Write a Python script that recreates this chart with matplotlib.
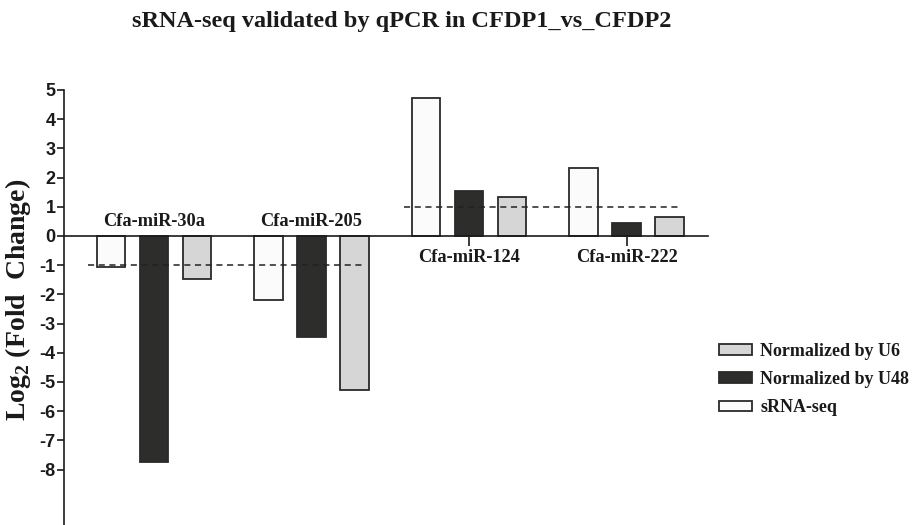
import matplotlib
matplotlib.use('Agg')
import matplotlib.pyplot as plt
from matplotlib.patches import Patch
import numpy as np

plt.rcParams['mathtext.fontset'] = 'custom'
plt.rcParams['mathtext.rm'] = 'Liberation Serif:bold'
plt.rcParams['mathtext.bf'] = 'Liberation Serif:bold'

# data
mirnas = ['Cfa-miR-30a', 'Cfa-miR-205', 'Cfa-miR-124', 'Cfa-miR-222']
srna_seq = [-1.07, -2.18, 4.72, 2.33]
norm_u48 = [-7.73, -3.45, 1.53, 0.44]
norm_u6 = [-1.49, -5.29, 1.34, 0.64]
thresholds = [-1, 1]
yticks = [5, 4, 3, 2, 1, 0, -1, -2, -3, -4, -5, -6, -7, -8]

serif = 'Liberation Serif'
edge = '#2a2a2a'

fig = plt.figure(figsize=(9.13, 5.25), dpi=100)
ax = fig.add_axes([0.0701, 0.0, 0.7054, 0.8286])

x = np.arange(len(mirnas))
off, w = 0.273, 0.181
series = [
    (srna_seq, '#fbfbfb', 'sRNA-seq', -off),
    (norm_u48, '#2d2e2b', 'Normalized by U48', 0.0),
    (norm_u6, '#d6d6d6', 'Normalized by U6', off),
]
for vals, col, lab, dx in series:
    ax.bar(x + dx, vals, width=w, color=col, edgecolor=edge, linewidth=1.3, zorder=3)

# threshold dashed lines (-1 under down-regulated pair, +1 under up-regulated pair)
ax.hlines(thresholds[0], x[0] - 0.42, x[1] + 0.32, colors='#222222',
          linestyles=(0, (4, 3)), linewidth=1.1, zorder=4)
ax.hlines(thresholds[1], x[2] - 0.41, x[3] + 0.34, colors='#222222',
          linestyles=(0, (4, 3)), linewidth=1.1, zorder=4)

# group labels: above axis for negative groups, below for positive
for xi, name, v in zip(x, mirnas, norm_u48):
    ypos = 0.49 if v < 0 else -0.75
    ax.text(xi, ypos, name, ha='center', va='center', fontsize=13.2,
            fontweight='bold', family=serif, color='#1a1a1a')

ax.set_xlim(-0.571, 3.517)
ax.set_ylim(-9.9, 5)
ax.spines['top'].set_visible(False)
ax.spines['right'].set_visible(False)
ax.spines['bottom'].set_position(('data', 0))
ax.spines['bottom'].set_zorder(5)
for s in ['left', 'bottom']:
    ax.spines[s].set_linewidth(1.2)
    ax.spines[s].set_color('#1a1a1a')

ax.set_xticks(x)
ax.set_xticklabels([])
ax.tick_params(axis='x', direction='out', length=7, width=1.2, color='#1a1a1a')
ax.set_yticks(yticks)
ax.set_yticklabels([str(t) for t in yticks], fontsize=13, fontweight='bold',
                   family='Liberation Sans', color='#1a1a1a')
ax.tick_params(axis='y', direction='out', length=5, width=1.2, pad=1, color='#1a1a1a')

ax.set_ylabel('Log$_2$ (Fold  Change)', fontsize=20, fontweight='bold', family=serif,
              color='#1a1a1a')
ax.yaxis.set_label_coords(-0.048, 0.517)

fig.text(0.44, 0.96, 'sRNA-seq validated by qPCR in CFDP1_vs_CFDP2', ha='center',
         va='center', fontsize=17.5, fontweight='bold', family=serif, color='#1a1a1a')

handles = [Patch(facecolor=c, edgecolor=edge, linewidth=1.3, label=l)
           for _, c, l, _ in series[::-1]]
leg = fig.legend(handles=handles, loc='upper left', bbox_to_anchor=(0.788, 0.347),
                 frameon=False, prop={'family': serif, 'weight': 'bold', 'size': 13},
                 handlelength=1.8, handleheight=0.5, handletextpad=0.45,
                 labelspacing=0.62, borderaxespad=0, borderpad=0)
for t in leg.get_texts():
    t.set_color('#1a1a1a')

fig.savefig('out.png', dpi=100)
